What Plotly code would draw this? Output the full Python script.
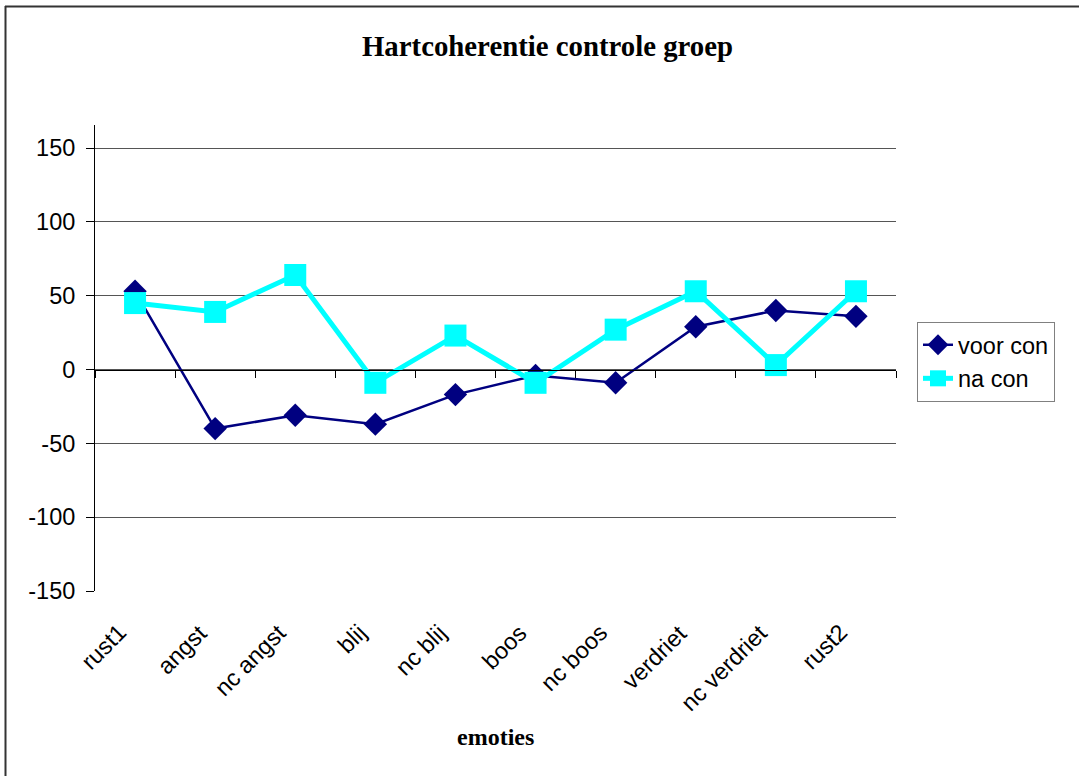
import plotly.graph_objects as go

# Emotion phases along the horizontal axis
emoties = ["rust1", "angst", "nc angst", "blij", "nc blij",
           "boos", "nc boos", "verdriet", "nc verdriet", "rust2"]

# Heart coherence scores per phase
voor_con = [53, -40, -31, -37, -17, -4, -9, 29, 40, 36]
na_con = [45, 39, 64, -9, 23, -9, 27, 53, 3, 53]

y_ticks = [-150, -100, -50, 0, 50, 100, 150]
y_tick_text = ["-150", "-100", "-50", "0", "50", "100", "150"]

W, H = 1079, 776
L, R, T, B = 95, 896, 125, 591  # plot area in pixels
y_min, y_max = -150, 165.6

sans = "Liberation Sans, Arial, sans-serif"
serif = "Liberation Serif, Times New Roman, serif"
label_size = 23.5

fig = go.Figure()

fig.add_trace(go.Scatter(
    x=emoties, y=voor_con, name="voor con", mode="lines+markers",
    line=dict(color="#000080", width=2.5),
    marker=dict(symbol="diamond", size=18, color="#000080"),
))
fig.add_trace(go.Scatter(
    x=emoties, y=na_con, name="na con", mode="lines+markers",
    line=dict(color="#00FFFF", width=5),
    marker=dict(symbol="square", size=22, color="#00FFFF"),
))

# Invisible helper trace so the zero-line axis is rendered
fig.add_trace(go.Scatter(x=[-0.5, 9.5], y=[0, 0], xaxis="x2", mode="lines",
                         line=dict(width=0), showlegend=False,
                         hoverinfo="skip", opacity=0))

# Category axis drawn through y = 0 with boundary ticks
zero_pos = (0 - y_min) / (y_max - y_min)


def px_x(px):
    return (px - L) / (R - L)


def px_y(px):
    return (B - px) / (B - T)


# Rotated category labels, right/top anchored just left of each category
annotations = [
    dict(text=name, x=name, xref="x", y=px_y(617), yref="paper",
         xanchor="right", yanchor="top", xshift=-1, textangle=-45,
         showarrow=False, font=dict(family=sans, size=label_size, color="black"))
    for name in emoties
]
annotations.append(dict(text="<b>emoties</b>", xref="paper", yref="paper",
                        x=0.5, y=px_y(737), xanchor="center",
                        yanchor="middle", showarrow=False,
                        font=dict(family=serif, size=24, color="black")))

fig.update_layout(
    width=W, height=H,
    margin=dict(l=L, r=W - R, t=T, b=H - B),
    paper_bgcolor="white", plot_bgcolor="white",
    font=dict(family=sans, size=label_size, color="black"),
    title=dict(text="<b>Hartcoherentie controle groep</b>",
               font=dict(family=serif, size=28.8, color="black"),
               x=547.5 / W, xanchor="center", xref="container",
               y=1 - 46 / H, yanchor="middle", yref="container"),
    xaxis=dict(type="category", categoryorder="array", categoryarray=emoties,
               range=[-0.5, 9.5], showline=False, showgrid=False, ticks="",
               showticklabels=False),
    xaxis2=dict(overlaying="x", anchor="free", position=zero_pos,
                range=[-0.5, 9.5], showgrid=False, zeroline=False,
                showline=True, linecolor="black", linewidth=1,
                ticks="outside", ticklen=7, tickcolor="black", tickwidth=1,
                tickvals=[i - 0.5 for i in range(11)], showticklabels=False),
    yaxis=dict(range=[y_min, y_max], tickvals=y_ticks, ticktext=y_tick_text,
               showgrid=True, gridcolor="#555555", gridwidth=1,
               zeroline=False, showline=True, linecolor="black", linewidth=1,
               ticks="outside", ticklen=8, tickcolor="black",
               ticklabelstandoff=6,
               tickfont=dict(family=sans, size=label_size, color="black")),
    legend=dict(x=px_x(917), xanchor="left",
                y=px_y(322), yanchor="top",
                bordercolor="#808080", borderwidth=1, bgcolor="white",
                font=dict(family=sans, size=label_size, color="black"),
                tracegroupgap=0),
    showlegend=True,
    annotations=annotations,
    shapes=[
        # outer chart frame: top and left edges
        dict(type="line", xref="paper", yref="paper",
             x0=px_x(5), x1=px_x(W), y0=px_y(6.5), y1=px_y(6.5),
             line=dict(color="#333333", width=2)),
        dict(type="line", xref="paper", yref="paper",
             x0=px_x(5.5), x1=px_x(5.5), y0=px_y(6), y1=px_y(H),
             line=dict(color="#333333", width=2)),
    ],
)

fig.write_html("out.html")
